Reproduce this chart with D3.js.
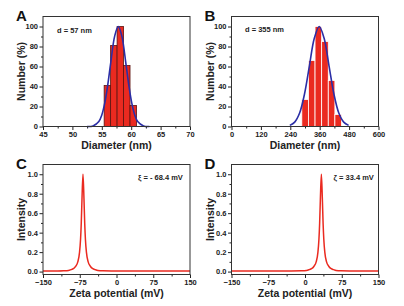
<!DOCTYPE html>
<html>
<head>
<meta charset="utf-8">
<script src="https://cdn.jsdelivr.net/npm/d3@7"></script>
<style>
  body { margin: 0; background: #fff; }
  svg { font-family: "Liberation Sans", Arial, sans-serif; }
</style>
</head>
<body>
<div id="chart"></div>
<script>
// ---- data ----
// A: size histogram (nm)
let binsA = [55.4, 56.5, 57.6, 58.7, 59.8];
let binWidthA = 1.1;
let countsA = [41, 81, 100, 61, 21];
let fitXA = [52.5, 53.5, 54.5, 55.0, 55.5, 56.0, 56.5, 57.2, 57.8, 58.4, 59.1, 59.6, 60.1, 60.6, 61.1, 62.1, 63.1];
let fitYA = [0.05, 0.6, 5.0, 11.6, 23.4, 41.1, 62.9, 90.6, 100, 90.6, 62.9, 41.1, 23.4, 11.6, 5.0, 0.6, 0.05];

// B: size histogram (nm)
let binsB = [287, 314, 341, 368, 395, 422];
let binWidthB = 27;
let countsB = [27, 66, 100, 85, 46, 12];
let fitXB = [238, 258, 278, 298, 318, 338, 358, 378, 398, 418, 438, 458, 478];
let fitYB = [1.1, 4.4, 13.5, 32.5, 60.7, 88.2, 100, 88.2, 60.7, 32.5, 13.5, 4.4, 1.1];

// C / D: zeta potential curves
let zetaXC = [-150, -120, -108, -98, -93, -88, -83, -79, -75.4, -73.4, -71.9, -70.4, -68.4, -66.4, -64.9, -63.4, -61.4, -57.8, -53.4, -48.4, -43.4, -38, -28, 0, 50, 150];
let zetaYC = [0.005, 0.006, 0.008, 0.012, 0.02, 0.03, 0.055, 0.1, 0.2, 0.33, 0.5, 0.75, 1.0, 0.75, 0.5, 0.33, 0.2, 0.1, 0.055, 0.03, 0.02, 0.012, 0.008, 0.006, 0.005, 0.005];
let zetaXD = [-150, -100, -40, -7, 3, 8.4, 13.4, 18.4, 22.8, 26.4, 28.4, 29.9, 31.4, 33.4, 35.4, 36.9, 38.4, 40.4, 44, 48.4, 53.4, 58.4, 63.4, 73.4, 103.4, 150];
let zetaYD = [0.005, 0.005, 0.006, 0.008, 0.012, 0.02, 0.03, 0.055, 0.1, 0.2, 0.33, 0.5, 0.75, 1.0, 0.75, 0.5, 0.33, 0.2, 0.1, 0.055, 0.03, 0.02, 0.012, 0.008, 0.006, 0.005];

let diamTicksA = [45, 50, 55, 60, 65, 70];
let diamTicksB = [0, 120, 240, 360, 480, 600];
let numberTicks = [0, 20, 40, 60, 80, 100];
let zetaTicks = [-150, -75, 0, 75, 150];
let intensityTicks = [0, 0.2, 0.4, 0.6, 0.8, 1.0];

let w = 404;
let h = 306;
let pw = 147;
let ph = 110;

let svg = d3.select("#chart")
  .append("svg")
  .attr("width", w)
  .attr("height", h)
;

let red = "#ea2a20";
let blue = "#2b2ea6";
let ink = "#222";

function midTicks(t) {
  let out = [];
  for (let i = 0; i < t.length - 1; i++) out.push((t[i] + t[i+1]) / 2);
  return out;
}

function panel(left, top, xDomain, yDomain, xTicks, yTicks, yFmt, xTitle, yTitle, letter, note, noteX, noteY) {
  let g = svg.append("g").attr("transform", "translate(" + left + "," + top + ")");
  let x = d3.scaleLinear().domain(xDomain).range([0, pw]);
  let y = d3.scaleLinear().domain(yDomain).range([ph, 0]);

  // minor ticks
  g.append("g").attr("transform", "translate(0," + ph + ")")
    .call(d3.axisBottom(x).tickValues(midTicks(xTicks)).tickSize(2).tickFormat(""));
  g.append("g")
    .call(d3.axisLeft(y).tickValues(midTicks(yTicks)).tickSize(2).tickFormat(""));

  g.append("g").attr("transform", "translate(0," + ph + ")")
    .call(d3.axisBottom(x).tickValues(xTicks).tickSize(3.5).tickPadding(1.5));
  g.append("g")
    .call(d3.axisLeft(y).tickValues(yTicks).tickSize(3.5).tickPadding(1.5).tickFormat(yFmt));

  g.selectAll(".domain").remove();
  g.selectAll(".tick line").attr("stroke", ink);
  g.selectAll(".tick text")
    .attr("font-size", 7.5)
    .attr("font-weight", "bold")
    .attr("fill", ink)
    .attr("font-family", "Liberation Sans, Arial, sans-serif");

  g.append("text")
    .attr("x", pw / 2)
    .attr("y", ph + 22)
    .attr("text-anchor", "middle")
    .attr("font-size", 10.5)
    .attr("font-weight", "bold")
    .attr("fill", ink)
    .text(xTitle);

  g.append("text")
    .attr("transform", "translate(" + (-18) + "," + (ph / 2) + ") rotate(-90)")
    .attr("text-anchor", "middle")
    .attr("font-size", 10.5)
    .attr("font-weight", "bold")
    .attr("fill", ink)
    .text(yTitle);

  g.append("text")
    .attr("x", -27)
    .attr("y", 4)
    .attr("font-size", 15)
    .attr("font-weight", "bold")
    .attr("fill", "#111")
    .text(letter);

  g.append("text")
    .attr("x", noteX)
    .attr("y", noteY)
    .attr("font-size", 7.5)
    .attr("font-weight", "bold")
    .attr("fill", ink)
    .text(note);

  return {g: g, x: x, y: y};
}

function frame(p) {
  p.g.append("rect")
    .attr("x", 0).attr("y", 0)
    .attr("width", pw).attr("height", ph)
    .attr("fill", "none")
    .attr("stroke", "#333")
    .attr("stroke-width", 1);
}

// ---- A ----
let pA = panel(43, 16.5, [45, 70], [0, 110], diamTicksA, numberTicks, d3.format("d"),
  "Diameter (nm)", "Number (%)", "A", "d = 57 nm", 14, 16);
pA.g.selectAll(".barA").data(countsA).enter()
  .append("rect")
  .attr("x", (d, i) => pA.x(binsA[i]))
  .attr("width", (d, i) => pA.x(binsA[i] + binWidthA) - pA.x(binsA[i]))
  .attr("y", d => pA.y(d))
  .attr("height", d => pA.y(0) - pA.y(d))
  .attr("fill", red)
  .attr("stroke", "#5a1512")
  .attr("stroke-width", 0.8);
pA.g.append("path")
  .datum(fitXA.map((d, i) => [d, fitYA[i]]))
  .attr("fill", "none")
  .attr("stroke", blue)
  .attr("stroke-width", 1.6)
  .attr("d", d3.line().x(d => pA.x(d[0])).y(d => pA.y(d[1])).curve(d3.curveCatmullRom));
frame(pA);

// ---- B ----
let pB = panel(231.5, 16.5, [0, 600], [0, 110], diamTicksB, numberTicks, d3.format("d"),
  "Diameter (nm)", "Number (%)", "B", "d = 355 nm", 13.5, 15);
pB.g.selectAll(".barB").data(countsB).enter()
  .append("rect")
  .attr("x", (d, i) => pB.x(binsB[i]))
  .attr("width", (d, i) => pB.x(binsB[i] + binWidthB) - pB.x(binsB[i]))
  .attr("y", d => pB.y(d))
  .attr("height", d => pB.y(0) - pB.y(d))
  .attr("fill", red)
  .attr("stroke", "#fff")
  .attr("stroke-width", 0.8);
pB.g.append("path")
  .datum(fitXB.map((d, i) => [d, fitYB[i]]))
  .attr("fill", "none")
  .attr("stroke", blue)
  .attr("stroke-width", 1.6)
  .attr("d", d3.line().x(d => pB.x(d[0])).y(d => pB.y(d[1])).curve(d3.curveCatmullRom));
frame(pB);

// ---- C ----
let pC = panel(43, 164.5, [-150, 150], [-0.03, 1.1], zetaTicks, intensityTicks, d3.format(".1f"),
  "Zeta potential (mV)", "Intensity", "C", "ξ = - 68.4 mV", 95, 15.5);
pC.g.append("path")
  .datum(zetaXC.map((d, i) => [d, zetaYC[i]]))
  .attr("fill", "none")
  .attr("stroke", red)
  .attr("stroke-width", 1.5)
  .attr("d", d3.line().x(d => pC.x(d[0])).y(d => pC.y(d[1])).curve(d3.curveMonotoneX));
frame(pC);

// ---- D ----
let pD = panel(231.5, 164.5, [-150, 150], [-0.03, 1.1], zetaTicks, intensityTicks, d3.format(".1f"),
  "Zeta potential (mV)", "Intensity", "D", "ζ = 33.4 mV", 102, 15.5);
pD.g.append("path")
  .datum(zetaXD.map((d, i) => [d, zetaYD[i]]))
  .attr("fill", "none")
  .attr("stroke", red)
  .attr("stroke-width", 1.5)
  .attr("d", d3.line().x(d => pD.x(d[0])).y(d => pD.y(d[1])).curve(d3.curveMonotoneX));
frame(pD);
</script>
</body>
</html>
